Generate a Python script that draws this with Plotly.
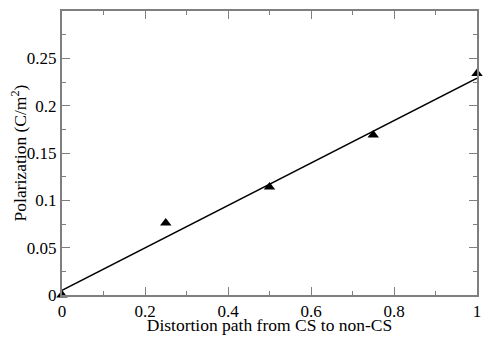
import plotly.graph_objects as go

# data points along the distortion path
path = [0.0, 0.25, 0.5, 0.75, 1.0]
polarization = [0.0, 0.076, 0.114, 0.169, 0.234]

# linear fit drawn through the points
fit_x = [0.0, 1.0]
fit_y = [0.005, 0.229]

serif = "Liberation Serif"

fig = go.Figure()
fig.add_trace(go.Scatter(x=fit_x, y=fit_y, mode="lines",
                         line=dict(color="black", width=1.5), showlegend=False))
fig.add_trace(go.Scatter(x=path, y=polarization, mode="markers",
                         marker=dict(symbol="triangle-up", size=10, color="black"),
                         showlegend=False, cliponaxis=False))

axis_style = dict(showline=True, linecolor="#7f7f7f", linewidth=2, mirror="allticks",
                  ticks="inside", ticklen=8, tickcolor="#7f7f7f", tickwidth=1,
                  showgrid=False, zeroline=False,
                  tickfont=dict(family=serif, size=17, color="black"))

fig.update_xaxes(range=[0, 1], tickvals=[0, 0.2, 0.4, 0.6, 0.8, 1],
                 ticktext=["0", "0.2", "0.4", "0.6", "0.8", "1"],
                 minor=dict(tickvals=[0.1, 0.3, 0.5, 0.7, 0.9], ticklen=4,
                            ticks="inside", tickcolor="#7f7f7f"),
                 title=dict(text="Distortion path from CS to non-CS", standoff=0,
                            font=dict(family=serif, size=17.5, color="black")),
                 **axis_style)
fig.update_yaxes(range=[0, 0.3], tickvals=[0, 0.05, 0.1, 0.15, 0.2, 0.25],
                 ticktext=["0", "0.05", "0.1", "0.15", "0.2", "0.25"],
                 minor=dict(tickvals=[0.025, 0.075, 0.125, 0.175, 0.225, 0.275], ticklen=4,
                            ticks="inside", tickcolor="#7f7f7f"),
                 title=dict(text="Polarization (C/m<sup>2</sup>)", standoff=4,
                            font=dict(family=serif, size=17.5, color="black")),
                 **axis_style)

# page body adds an 8px margin, so the figure is sized to fit inside the window
fig.update_layout(width=475, height=327, margin=dict(l=54, r=6, t=1, b=37),
                  font=dict(family=serif, size=17, color="black"),
                  plot_bgcolor="white", paper_bgcolor="white")

fig.write_html("out.html")
